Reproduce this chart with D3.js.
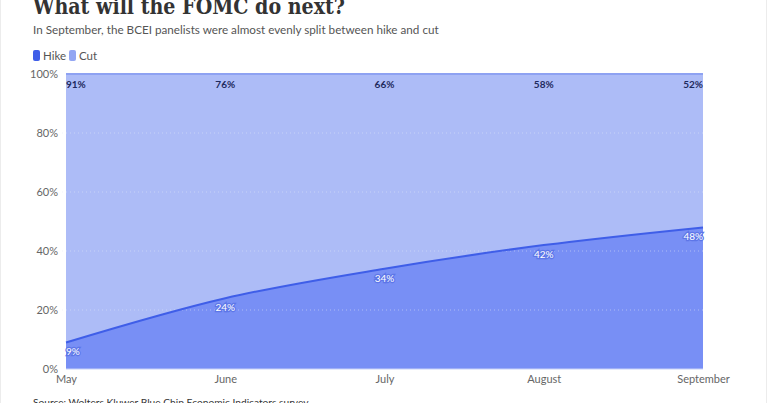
<!DOCTYPE html>
<html><head><meta charset="utf-8">
<script src="https://cdn.jsdelivr.net/npm/d3@7"></script>
<style>
html,body{margin:0;padding:0;background:#fff;}
svg{display:block;}
</style></head>
<body>
<svg id="c" width="768" height="403"></svg>
<script>
const months = ["May","June","July","August","September"];
const hike = [9,24,34,42,48];
const cut = [91,76,66,58,52];
const yTicks = [0,20,40,60,80,100];
const title = "What will the FOMC do next?";
const subtitle = "In September, the BCEI panelists were almost evenly split between hike and cut";
const source = "Source: Wolters Kluwer Blue Chip Economic Indicators survey";

const svg = d3.select("#c");
const W = 768, H = 403;
const m = {left:66, right:65, top:74, bottom:34};
const x = d3.scalePoint().domain(months).range([m.left, W - m.right]);
const y = d3.scaleLinear().domain([0,100]).range([H - m.bottom, m.top]);

svg.append("rect").attr("x",0.5).attr("y",-1).attr("width",W-2).attr("height",H+2)
  .attr("fill","none").attr("stroke","#ececec");

// title
svg.append("text").attr("x",33).attr("y",14).text(title)
  .attr("font-family","'DejaVu Serif Condensed', 'DejaVu Serif', serif").attr("font-stretch","condensed").attr("font-weight","bold")
  .attr("font-size",22).attr("fill","#333").attr("textLength",312).attr("lengthAdjust","spacingAndGlyphs");
svg.append("text").attr("x",33).attr("y",34).text(subtitle)
  .attr("font-family","Lato, sans-serif").attr("font-size",11.7).attr("fill","#555");

// legend
const leg = [{n:"Hike",c:"#3f5ee8",x:33},{n:"Cut",c:"#93a6f3",x:69}];
leg.forEach(l=>{
  svg.append("rect").attr("x",l.x).attr("y",50).attr("width",7).attr("height",11).attr("rx",2).attr("fill",l.c);
  svg.append("text").attr("x",l.x+10).attr("y",60).text(l.n)
    .attr("font-family","Lato, sans-serif").attr("font-size",11.5).attr("fill","#555");
});

const data = months.map((mo,i)=>({m:mo, hike:hike[i], cut:cut[i]}));
const curve = d3.curveMonotoneX;

// cut area (stacked on hike)
svg.append("path").datum(data)
  .attr("d", d3.area().x(d=>x(d.m)).y0(d=>y(d.hike)).y1(d=>y(d.hike+d.cut)).curve(curve))
  .attr("fill","#adbcf7");
svg.append("path").datum(data)
  .attr("d", d3.line().x(d=>x(d.m)).y(d=>y(d.hike+d.cut)).curve(curve))
  .attr("fill","none").attr("stroke","#8ea2f2").attr("stroke-width",2);
// hike area
svg.append("path").datum(data)
  .attr("d", d3.area().x(d=>x(d.m)).y0(y(0)).y1(d=>y(d.hike)).curve(curve))
  .attr("fill","#788ff5");

// gridlines
svg.append("g").selectAll("line").data(yTicks.filter(t=>t>0 && t<100)).join("line")
  .attr("x1",m.left-4).attr("x2",W-m.right).attr("y1",d=>y(d)).attr("y2",d=>y(d))
  .attr("stroke","#e6e9f7").attr("stroke-opacity",0.5).attr("stroke-dasharray","1,3");

svg.append("path").datum(data)
  .attr("d", d3.line().x(d=>x(d.m)).y(d=>y(d.hike)).curve(curve))
  .attr("fill","none").attr("stroke","#3f5ee8").attr("stroke-width",2);
svg.append("line").attr("x1",m.left).attr("x2",W-m.right).attr("y1",y(0)).attr("y2",y(0))
  .attr("stroke","#c8d1f8").attr("stroke-width",1);

// y axis
const yAxis = svg.append("g").attr("transform",`translate(${m.left-8},0)`)
  .call(d3.axisLeft(y).tickValues(yTicks).tickFormat(d=>d+"%").tickSize(0).tickPadding(0));
yAxis.select(".domain").remove();
yAxis.selectAll("text").attr("font-family","Lato, sans-serif").attr("font-size",11).attr("fill","#666");

// x axis
const xAxis = svg.append("g").attr("transform",`translate(0,${y(0)+4})`)
  .call(d3.axisBottom(x).tickSize(0).tickPadding(0));
xAxis.select(".domain").remove();
xAxis.selectAll("text").attr("font-family","Lato, sans-serif").attr("font-size",11).attr("fill","#666").attr("dy","0.9em");

const anchor = (i)=> i===0 ? "start" : (i===months.length-1 ? "end" : "middle");

// cut labels
svg.append("g").selectAll("text").data(data).join("text")
  .attr("x",d=>x(d.m)).attr("y",y(100)+14)
  .attr("text-anchor",(d,i)=>anchor(i))
  .attr("font-family","Lato, sans-serif").attr("font-weight","bold").attr("font-size",10)
  .attr("fill","#1e2a5e").text(d=>d.cut+"%");

// hike labels
svg.append("g").selectAll("text").data(data).join("text")
  .attr("x",d=>x(d.m)).attr("y",d=>y(d.hike)+13)
  .attr("text-anchor",(d,i)=>anchor(i))
  .attr("font-family","Lato, sans-serif").attr("font-size",10)
  .attr("fill","#fff").attr("stroke","#5d76e8").attr("stroke-width",2.5).attr("paint-order","stroke")
  .text(d=>d.hike+"%");

svg.append("text").attr("x",33).attr("y",406).text(source)
  .attr("font-family","Lato, sans-serif").attr("font-size",10.2).attr("fill","#333");
</script>
</body></html>
